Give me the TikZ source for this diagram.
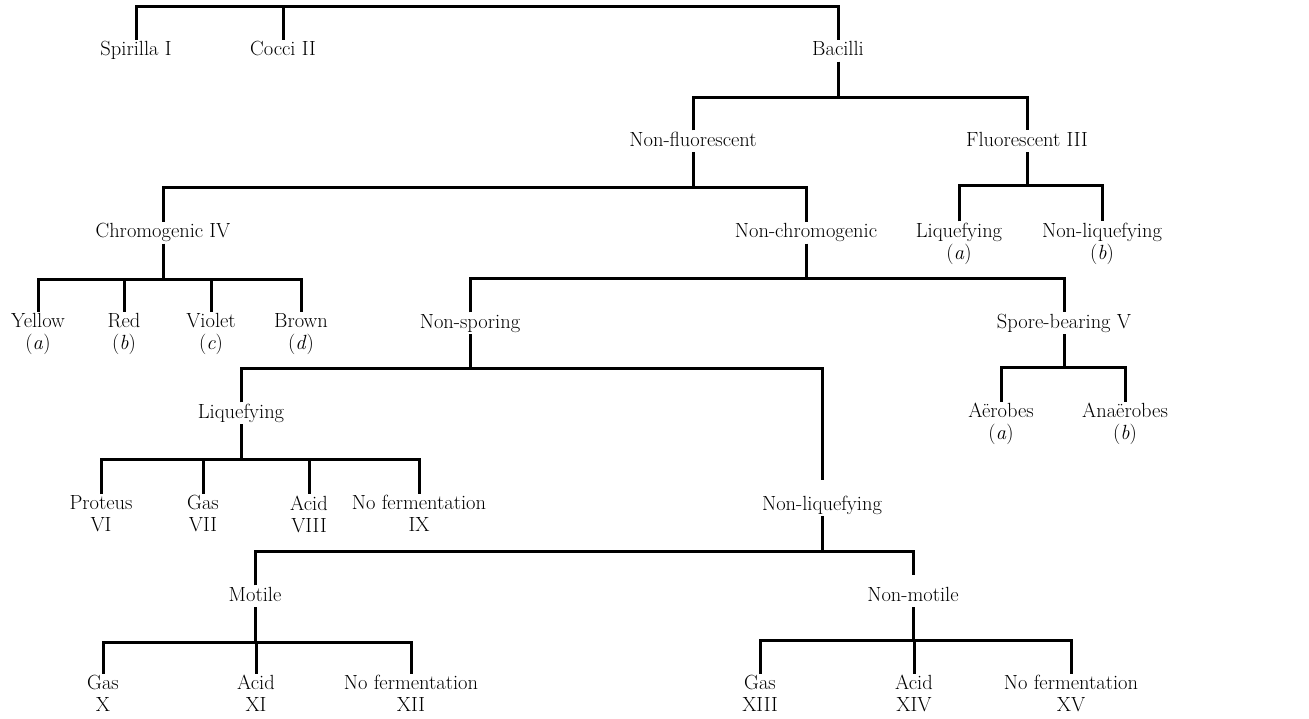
\documentclass[tikz,border=0pt]{standalone}
\usepackage{fontspec}
\newcommand\twoline[2]{\rule{0pt}{14pt}#1\\#2\rule[-5pt]{0pt}{5pt}}
\begin{document}
\begin{tikzpicture}[x=1pt,y=-1pt,
  lab/.style={font=\fontsize{20.5}{22}\selectfont, inner sep=1.5pt, text height=14pt, text depth=4.5pt},
  lab2/.style={font=\fontsize{20.5}{22}\selectfont, inner sep=1.5pt, align=center},
  conn/.style={line width=3pt, line join=miter}]
\useasboundingbox[fill=white] (0,0) rectangle (1309,718);
% bar levels
\coordinate (b0) at (0,6);
\coordinate (b1) at (0,97);
\coordinate (b2) at (0,187);
\coordinate (b3) at (0,185);
\coordinate (b4) at (0,279);
\coordinate (b5) at (0,278);
\coordinate (b6) at (0,368);
\coordinate (b7) at (0,367);
\coordinate (b8) at (0,459);
\coordinate (b9) at (0,551);
\coordinate (b10) at (0,642);
\coordinate (b11) at (0,640);
% nodes
\node[lab] (spirilla) at (136,50.75) {Spirilla I};
\node[lab] (cocci) at (283,50.75) {Cocci II};
\node[lab] (bacilli) at (838,50.75) {Bacilli};
\node[lab] (nonfluor) at (693,141.25) {Non-fluorescent};
\node[lab] (fluor) at (1027,141.25) {Fluorescent III};
\node[lab] (chromo) at (163,232.75) {Chromogenic IV};
\node[lab] (nonchromo) at (806,232.75) {Non-chromogenic};
\node[lab2] (fliq) at (959,243.75) {\twoline{Liquefying}{(\textit{a})}};
\node[lab2] (fnonliq) at (1102,243.75) {\twoline{Non-liquefying}{(\textit{b})}};
\node[lab2] (yellow) at (38,334.25) {\twoline{Yellow}{(\textit{a})}};
\node[lab2] (red) at (124,334.25) {\twoline{Red}{(\textit{b})}};
\node[lab2] (violet) at (211,334.25) {\twoline{Violet}{(\textit{c})}};
\node[lab2] (brown) at (301,334.25) {\twoline{Brown}{(\textit{d})}};
\node[lab] (nonspor) at (470,323.25) {Non-sporing};
\node[lab] (spore) at (1064,323.25) {Spore-bearing V};
\node[lab] (liq) at (241,413.25) {Liquefying};
\node[lab2] (aer) at (1001,424.25) {\twoline{Aërobes}{(\textit{a})}};
\node[lab2] (anaer) at (1125,424.25) {\twoline{Anaërobes}{(\textit{b})}};
\node[lab2] (proteus) at (101,516.25) {\twoline{Proteus}{VI}};
\node[lab2] (gas7) at (203,516.25) {\twoline{Gas}{VII}};
\node[lab2] (acid8) at (309,516.25) {\twoline{Acid}{VIII}};
\node[lab2] (noferm9) at (419,516.25) {\twoline{No fermentation}{IX}};
\node[lab] (nonliq) at (822,505.25) {Non-liquefying};
\node[lab] (motile) at (255,596.25) {Motile};
\node[lab] (nonmotile) at (913,596.25) {Non-motile};
\node[lab2] (gas10) at (103,696) {\twoline{Gas}{X}};
\node[lab2] (acid11) at (256,696) {\twoline{Acid}{XI}};
\node[lab2] (noferm12) at (411,696) {\twoline{No fermentation}{XII}};
\node[lab2] (gas13) at (760,696) {\twoline{Gas}{XIII}};
\node[lab2] (acid14) at (914,696) {\twoline{Acid}{XIV}};
\node[lab2] (noferm15) at (1071,696) {\twoline{No fermentation}{XV}};
% connectors
\draw[conn] (spirilla.north) -- (spirilla |- b0) -- (bacilli |- b0) -- (bacilli.north);
\draw[conn] (cocci |- b0) -- (cocci.north);
\draw[conn] (bacilli.south) -- (bacilli |- b1);
\draw[conn] (nonfluor.north) -- (nonfluor |- b1) -- (fluor |- b1) -- (fluor.north);
\draw[conn] (nonfluor.south) -- (nonfluor |- b2);
\draw[conn] (chromo.north) -- (chromo |- b2) -- (nonchromo |- b2) -- (nonchromo.north);
\draw[conn] (fluor.south) -- (fluor |- b3);
\draw[conn] (fliq.north) -- (fliq |- b3) -- (fnonliq |- b3) -- (fnonliq.north);
\draw[conn] (chromo.south) -- (chromo |- b4);
\draw[conn] (yellow.north) -- (yellow |- b4) -- (brown |- b4) -- (brown.north);
\draw[conn] (red |- b4) -- (red.north);
\draw[conn] (violet |- b4) -- (violet.north);
\draw[conn] (nonchromo.south) -- (nonchromo |- b5);
\draw[conn] (nonspor.north) -- (nonspor |- b5) -- (spore |- b5) -- (spore.north);
\draw[conn] (nonspor.south) -- (nonspor |- b6);
\draw[conn] (liq.north) -- (liq |- b6) -- (nonliq |- b6) -- ([yshift=14pt]nonliq.north);
\draw[conn] (spore.south) -- (spore |- b7);
\draw[conn] (aer.north) -- (aer |- b7) -- (anaer |- b7) -- (anaer.north);
\draw[conn] (liq.south) -- (liq |- b8);
\draw[conn] (proteus.north) -- (proteus |- b8) -- (noferm9 |- b8) -- (noferm9.north);
\draw[conn] (gas7 |- b8) -- (gas7.north);
\draw[conn] (acid8 |- b8) -- (acid8.north);
\draw[conn] (nonliq.south) -- (nonliq |- b9);
\draw[conn] (motile.north) -- (motile |- b9) -- (nonmotile |- b9) -- ([yshift=10pt]nonmotile.north);
\draw[conn] (motile.south) -- (motile |- b10);
\draw[conn] (gas10.north) -- (gas10 |- b10) -- (noferm12 |- b10) -- (noferm12.north);
\draw[conn] (acid11 |- b10) -- (acid11.north);
\draw[conn] (nonmotile.south) -- (nonmotile |- b11);
\draw[conn] (gas13.north) -- (gas13 |- b11) -- (noferm15 |- b11) -- (noferm15.north);
\draw[conn] (acid14 |- b11) -- (acid14.north);
\end{tikzpicture}
\end{document}
